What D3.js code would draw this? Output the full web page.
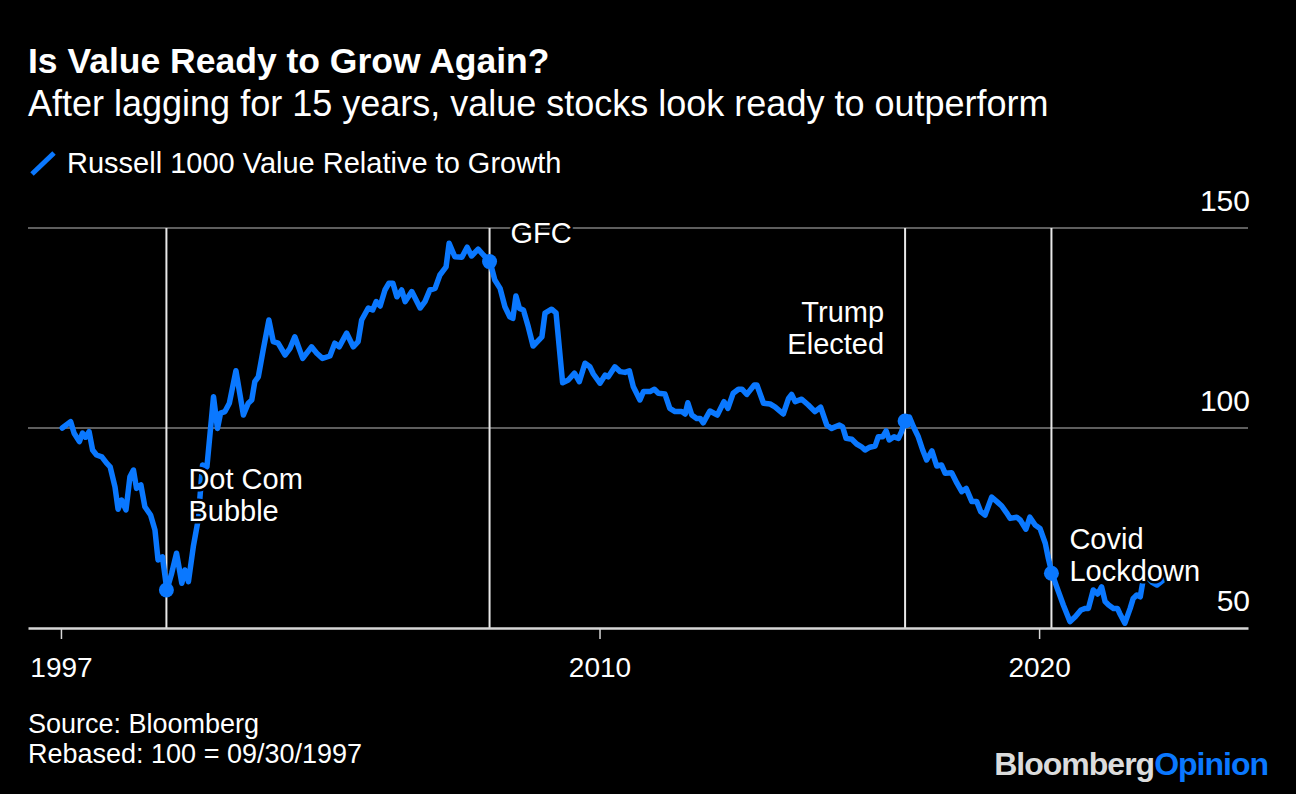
<!DOCTYPE html>
<html>
<head>
<meta charset="utf-8">
<script src="https://cdn.jsdelivr.net/npm/d3@7"></script>
<style>
  html, body { margin: 0; padding: 0; background: #000; }
  svg { display: block; }
  text { font-family: "Liberation Sans", Arial, Helvetica, sans-serif; fill: #fff; }
</style>
</head>
<body>
<svg id="chart" width="1296" height="794"></svg>
<script>
// ---------------- data ----------------
const seriesName = "Russell 1000 Value Relative to Growth";

// decimal years
const years = [
  1997.78,1997.97,1998.05,1998.17,1998.24,1998.31,1998.39,1998.47,1998.56,1998.68,
  1998.79,1998.87,1998.98,1999.05,1999.13,1999.23,1999.32,1999.40,1999.47,1999.57,
  1999.66,1999.79,1999.89,1999.96,2000.06,2000.16,2000.27,2000.38,2000.50,2000.57,
  2000.65,2000.76,2000.87,2000.97,2001.07,2001.22,2001.31,2001.38,2001.48,2001.58,
  2001.73,2001.90,2002.01,2002.09,2002.16,2002.24,2002.35,2002.48,2002.58,2002.69,
  2002.85,2002.96,2003.07,2003.25,2003.45,2003.57,2003.70,2003.87,2003.98,2004.08,
  2004.25,2004.40,2004.51,2004.59,2004.74,2004.84,2004.92,2005.01,2005.12,2005.21,
  2005.30,2005.39,2005.50,2005.58,2005.73,2005.92,2006.03,2006.14,2006.26,2006.37,
  2006.51,2006.58,2006.71,2006.87,2006.99,2007.09,2007.24,2007.36,2007.51,2007.62,
  2007.74,2007.85,2007.96,2008.03,2008.10,2008.18,2008.27,2008.38,2008.49,2008.69,
  2008.76,2008.91,2009.01,2009.16,2009.29,2009.43,2009.54,2009.67,2009.78,2009.86,
  2010.01,2010.13,2010.20,2010.35,2010.47,2010.58,2010.68,2010.77,2010.92,2011.00,
  2011.15,2011.25,2011.34,2011.49,2011.60,2011.72,2011.87,2011.95,2012.01,2012.10,
  2012.21,2012.29,2012.36,2012.51,2012.68,2012.83,2012.92,2013.04,2013.16,2013.24,
  2013.35,2013.52,2013.58,2013.73,2013.88,2013.99,2014.18,2014.30,2014.37,2014.45,
  2014.60,2014.75,2014.90,2015.03,2015.17,2015.28,2015.46,2015.53,2015.61,2015.74,
  2015.85,2015.96,2016.04,2016.15,2016.27,2016.34,2016.44,2016.52,2016.59,2016.70,
  2016.80,2016.87,2016.95,2017.05,2017.14,2017.25,2017.35,2017.44,2017.56,2017.67,
  2017.78,2017.86,2018.01,2018.13,2018.24,2018.34,2018.47,2018.58,2018.67,2018.77,
  2018.92,2019.04,2019.15,2019.26,2019.34,2019.49,2019.57,2019.70,2019.79,2019.91,
  2020.02,2020.14,2020.21,2020.29,2020.40,2020.55,2020.70,2020.82,2020.95,2021.05,
  2021.12,2021.23,2021.33,2021.42,2021.50,2021.58,2021.69,2021.78,2021.83,2021.95,
  2022.07,2022.14,2022.22,2022.30,2022.36,2022.46,2022.56,2022.68,2022.82
];

const values = [
  100,101.6,98.7,96.6,98.7,97.7,99.1,94.5,93.25,92.8,
  91.2,90.3,85.3,79.7,82,79.5,87.8,89.5,84.9,85.75,
  80.3,78.25,74.5,67,67.8,59.5,63.7,68.7,61.2,64.5,
  61.6,70.3,77,90.75,90.3,107.8,99.9,103.7,104.1,106.2,
  114.3,103.25,106.2,107,111.6,112.8,119.5,127,121.6,121.2,
  118.25,119.9,122.8,117.4,120.3,118.7,117.4,118,121.2,120.3,
  123.7,120.3,121.6,127,130,129.5,131.6,130.5,134.5,136.2,
  136.2,132.8,134.5,131.6,134.1,130,131.6,134.5,134.9,138.25,
  140.3,146.2,142.8,142.7,145.2,143,144.7,143.25,141.6,137,
  134.9,130.3,127.8,127.4,133,129.9,129.5,125.3,120.5,122.8,
  128.7,129.7,128.8,111.3,112,113.7,111.6,116.2,115.3,113.5,
  111.2,113.25,112.8,115.3,114.1,113.9,114.3,110.3,107,109.1,
  109.1,109.7,108.7,108.5,104.9,104.1,104.1,103.5,106.3,103.25,
  102.4,102.4,101.3,104.25,103.25,106.6,104.9,108.7,109.7,109.7,
  108.4,110.75,110.75,106.2,106,105.3,103.5,107.4,108.4,106.6,
  107.2,105.75,104.1,105.2,100.75,99.9,100.75,100.3,97.4,97.2,
  96,95.3,94.5,95.2,95.5,97.8,97.8,99.3,97,97.8,
  97.4,99.1,101.75,102.7,100.3,97.8,94.5,92,94.3,90.5,
  90.75,88.7,88.8,86.2,84.1,84.9,81.6,81.6,79.1,78.25,
  82.7,81.6,80.5,78.8,77.4,77.7,77,74.7,77.7,75.75,
  74.9,71.2,67.4,63.7,60.3,55.75,51.6,52.8,54.5,54.9,
  54.9,59.5,58.5,60.3,56.6,55.75,54.9,54.9,53.7,51.2,
  54.9,57.4,58.25,57.8,61.7,62.7,61.5,60.75,62
];

// events
const eventLabels = [["Dot Com","Bubble"],["GFC"],["Trump","Elected"],["Covid","Lockdown"]];
const eventYears  = [2000.15, 2007.50, 2016.95, 2020.28];
const eventValues = [59.5, 141.6, 101.75, 63.7];

// axes
const xDomainYears = [1997.0, 2024.75];
const xTickYears   = [1997.75, 2010, 2020];
const xTickLabels  = ["1997", "2010", "2020"];
const yDomain      = [50, 150];
const yTicks       = [50, 100, 150];

// ---------------- helpers ----------------
function toDate(y) {
  const yr = Math.floor(y);
  const s = new Date(yr, 0, 1), e = new Date(yr + 1, 0, 1);
  return new Date(+s + (y - yr) * (e - s));
}

const data = years.map((y, i) => ({ date: toDate(y), value: values[i] }));

// ---------------- layout ----------------
const W = 1296, H = 794;
const plot = { left: 28, right: 1248, top: 228, bottom: 628 };
const BLUE = "#0a78ff";

const svg = d3.select("#chart");
svg.append("rect").attr("width", W).attr("height", H).attr("fill", "#000");

const x = d3.scaleTime()
  .domain(xDomainYears.map(toDate))
  .range([plot.left, plot.right]);
const y = d3.scaleLinear().domain(yDomain).range([plot.bottom, plot.top]);

// titles
svg.append("text").attr("x", 28).attr("y", 73)
  .style("font-size", "35.5px").style("font-weight", "bold")
  .text("Is Value Ready to Grow Again?");
svg.append("text").attr("x", 28).attr("y", 116)
  .style("font-size", "36px")
  .text("After lagging for 15 years, value stocks look ready to outperform");

// legend
svg.append("line").attr("x1", 32).attr("y1", 174).attr("x2", 54).attr("y2", 153)
  .attr("stroke", BLUE).attr("stroke-width", 5);
svg.append("text").attr("x", 67).attr("y", 173)
  .style("font-size", "29px").text(seriesName);

// gridlines (above the baseline)
svg.append("g").selectAll("line")
  .data(yTicks.filter(t => t !== yDomain[0]))
  .join("line")
  .attr("x1", plot.left).attr("x2", plot.right)
  .attr("y1", d => y(d)).attr("y2", d => y(d))
  .attr("stroke", "#5e5e5e").attr("stroke-width", 2);

// y labels
svg.append("g").selectAll("text")
  .data(yTicks).join("text")
  .attr("x", 1250).attr("y", d => y(d) - 17)
  .attr("text-anchor", "end")
  .style("font-size", "30px")
  .text(d => d);

// event vertical lines
svg.append("g").selectAll("line")
  .data(eventYears).join("line")
  .attr("x1", d => x(toDate(d))).attr("x2", d => x(toDate(d)))
  .attr("y1", y(yDomain[1])).attr("y2", y(yDomain[0]))
  .attr("stroke", "#e8e8e8").attr("stroke-width", 2);

// x axis
const xAxis = d3.axisBottom(x)
  .tickValues(xTickYears.map(toDate))
  .tickFormat((d, i) => xTickLabels[i])
  .tickSize(11).tickSizeOuter(0).tickPadding(18);
const gx = svg.append("g").attr("transform", `translate(0,${plot.bottom})`).call(xAxis);
gx.select(".domain").attr("stroke", "#d6d6d6").attr("stroke-width", 2.5);
gx.selectAll(".tick line").attr("stroke", "#d6d6d6").attr("stroke-width", 1.5);
gx.selectAll(".tick text").attr("fill", "#fff")
  .style("font-size", "28px").style("font-family", "'Liberation Sans', Arial, sans-serif");

// line
const line = d3.line().x(d => x(d.date)).y(d => y(d.value)).curve(d3.curveLinear);
svg.append("path").datum(data)
  .attr("d", line)
  .attr("fill", "none").attr("stroke", BLUE)
  .attr("stroke-width", 5.5).attr("stroke-linejoin", "round").attr("stroke-linecap", "round");

// event dots
svg.append("g").selectAll("circle")
  .data(eventYears).join("circle")
  .attr("cx", d => x(toDate(d)))
  .attr("cy", (d, i) => y(eventValues[i]))
  .attr("r", 7.5).attr("fill", BLUE);

// event labels (with black halo)
const labelPos = [
  { dx: 22, y: 489, anchor: "start" },
  { dx: 21, y: 243, anchor: "start" },
  { dx: -21, y: 322, anchor: "end" },
  { dx: 18, y: 549, anchor: "start" }
];
eventLabels.forEach((lines, i) => {
  const t = svg.append("text")
    .attr("x", x(toDate(eventYears[i])) + labelPos[i].dx)
    .attr("y", labelPos[i].y)
    .attr("text-anchor", labelPos[i].anchor)
    .style("font-size", "29px")
    .style("paint-order", "stroke")
    .attr("stroke", "#000").attr("stroke-width", 5).attr("stroke-linejoin", "round");
  lines.forEach((l, j) => {
    t.append("tspan")
      .attr("x", x(toDate(eventYears[i])) + labelPos[i].dx)
      .attr("dy", j === 0 ? 0 : 32)
      .text(l);
  });
});

// footer
svg.append("text").attr("x", 28).attr("y", 733).style("font-size", "27px").text("Source: Bloomberg");
svg.append("text").attr("x", 28).attr("y", 763).style("font-size", "27px").text("Rebased: 100 = 09/30/1997");

const logo = svg.append("text").attr("x", 1268).attr("y", 775).attr("text-anchor", "end")
  .style("font-size", "32px").style("font-weight", "bold").style("letter-spacing", "-1px");
logo.append("tspan").style("fill", "#dcdcdc").text("Bloomberg");
logo.append("tspan").style("fill", BLUE).text("Opinion");
</script>
</body>
</html>
